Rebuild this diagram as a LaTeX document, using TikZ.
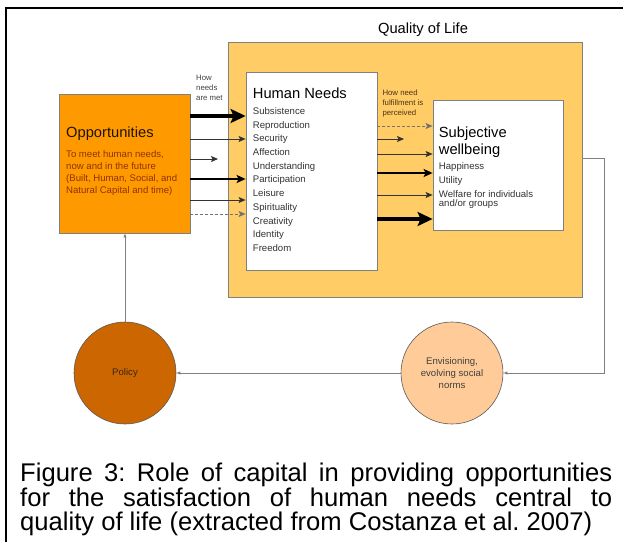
\documentclass[tikz,border=0pt]{standalone}
\usepackage{fontspec}
\setmainfont{Liberation Sans}
\usetikzlibrary{arrows.meta, positioning}
\frenchspacing

\definecolor{qolfill}{HTML}{FFCC66}
\definecolor{oppfill}{HTML}{FF9900}
\definecolor{policyfill}{HTML}{CC6600}
\definecolor{envfill}{HTML}{FFCC99}
\definecolor{opptext}{HTML}{8F3300}
\definecolor{notetext}{HTML}{4D3319}

\newcommand\headfont{\fontsize{14.7}{17}\selectfont}
\newcommand\itemfont{\fontsize{9.6}{13.7}\selectfont}
\newcommand\ringfont{\fontsize{9.6}{12}\selectfont}
\newcommand\notefont{\fontsize{7.8}{10}\selectfont}
\newcommand\figcapfont{\fontsize{25.6}{24.6}\selectfont}

\begin{document}
\begin{tikzpicture}[x=1pt, y=-1pt,
    box/.style={rectangle, draw=black!50, line width=0.8pt, inner sep=0pt},
    label/.style={anchor=north west, inner sep=0pt, align=left},
    ring/.style={circle, draw=black!65, line width=0.6pt, minimum size=102pt,
                 inner sep=0pt, align=center, font=\ringfont},
    fat/.style={draw=black, line width=3.3pt, -{Stealth[length=15pt,width=14pt,inset=3pt]}},
    med/.style={draw=black, line width=2pt, -{Stealth[length=9pt,width=8pt,inset=2pt]}},
    slim/.style={draw=black!80, line width=0.9pt, -{Stealth[length=7pt,width=6pt,inset=1.5pt]}},
    hint/.style={slim, draw=black!55, dash pattern=on 3pt off 2pt},
    feedback/.style={draw=black!50, line width=0.8pt}]
\useasboundingbox (0,0) rectangle (623,542);
\draw[line width=2.5pt] (6,542) -- (6,8) -- (623,8);

% boxes
\node[box, fill=qolfill, minimum width=354pt, minimum height=255pt] (qol) at (405,169.5) {};
\node[font=\headfont] (qoltitle) at (423,30) {Quality of Life};
\node[box, fill=white, minimum width=131pt, minimum height=198pt] (needs) at (311.5,171) {};
\node[box, fill=oppfill, minimum width=131pt, minimum height=139pt] (opp) at (124.5,163.5) {};
\node[box, fill=white, minimum width=130pt, minimum height=130pt] (sw) at (498,165) {};

% box texts
\node[label, font=\headfont, text=black!85!brown] (opphead) at (66,126.5) {Opportunities};
\node[label, font=\ringfont, text=opptext] (oppbody) at (66,150.5)
    {To meet human needs,\\now and in the future\\(Built, Human, Social, and\\Natural Capital and time)};
\node[label, font=\headfont] (needshead) at (252.7,87.3) {Human Needs};
\node[label, font=\itemfont, text=black!80] (needsbody) at (252.7,107.3)
    {Subsistence\\Reproduction\\Security\\Affection\\Understanding\\Participation\\Leisure\\Spirituality\\Creativity\\Identity\\Freedom};
\node[label, font=\headfont] (swhead) at (438.7,126.5) {Subjective\\wellbeing};
\node[label, font=\itemfont, text=black!80] (swbody) at (438.7,162.7)
    {Happiness\\Utility\\Welfare for individuals\\[-4.7pt]and/or groups};
\node[label, font=\notefont, text=black!75] (metnote) at (196,75) {How\\needs\\are met};
\node[label, font=\notefont, text=notetext] (feltnote) at (382.3,89.3) {How need\\fulfillment is\\perceived};

% circles
\node[ring, fill=policyfill, text=black!70!brown] (policy) at (125,373) {Policy};
\node[ring, fill=envfill, text=black!75] (env) at (452,373) {Envisioning,\\evolving social\\norms};

% capital to needs
\coordinate (oppstub) at (218,159);
\draw[fat] (opp.east |- 0,116) -- (needs.west |- 0,116);
\draw[slim] (opp.east |- 0,139) -- (needs.west |- 0,139);
\draw[slim] (opp.east |- oppstub) -- (oppstub);
\draw[med] (opp.east |- 0,179) -- (needs.west |- 0,179);
\draw[slim] (opp.east |- 0,200) -- (needs.west |- 0,200);
\draw[hint] (opp.east |- 0,214) -- (needs.west |- 0,214);

% needs to wellbeing
\coordinate (needstub) at (404,139);
\draw[hint] (needs.east |- 0,126) -- (sw.west |- 0,126);
\draw[slim] (needs.east |- needstub) -- (needstub);
\draw[slim] (needs.east |- 0,154) -- (sw.west |- 0,154);
\draw[med] (needs.east |- 0,173) -- (sw.west |- 0,173);
\draw[slim] (needs.east |- 0,195) -- (sw.west |- 0,195);
\draw[fat] (needs.east |- 0,219) -- (sw.west |- 0,219);

% feedback loop
\coordinate (turn) at (604,158);
\draw[feedback, -{Latex[length=4pt,width=3.5pt]}] (qol.east |- turn) -- (turn) |- (env.east);
\draw[feedback, -{Latex[length=4pt,width=3.5pt]}] (env) -- (policy);
\draw[feedback, -{Latex[length=4pt,width=3.5pt]}] (policy.north) -- (policy.north |- opp.south);

\node[anchor=north west, inner sep=0pt, text width=592pt, align=justify, font=\figcapfont] (caption) at (20,463)
    {Figure 3: Role of capital in providing opportunities\linebreak
     for the satisfaction of human needs central to\linebreak
     quality of life (extracted from Costanza et al. 2007)};
\end{tikzpicture}
\end{document}
